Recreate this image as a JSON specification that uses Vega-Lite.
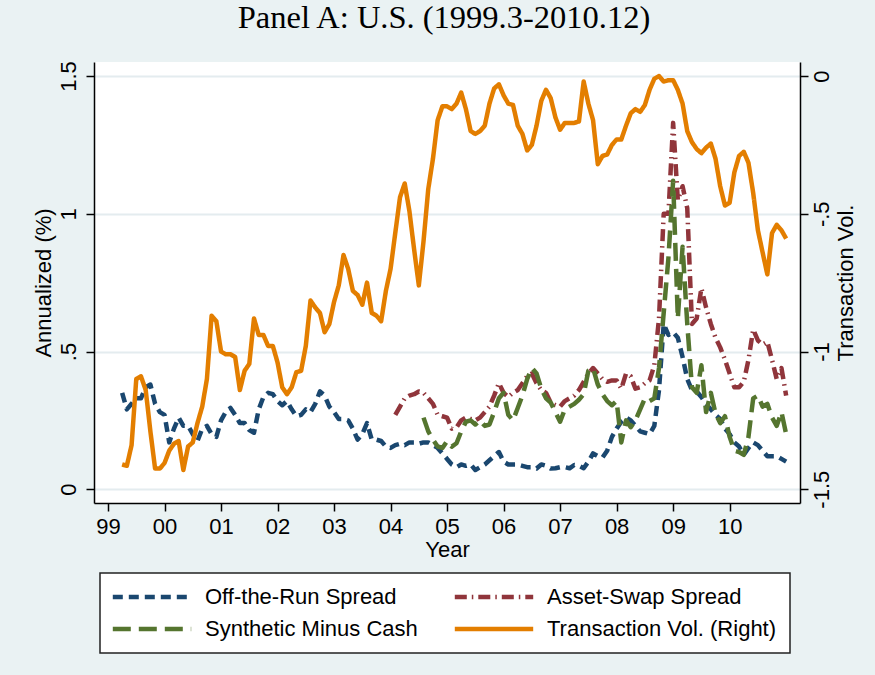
{
  "$schema": "https://vega.github.io/schema/vega-lite/v6.json",
  "width": 706,
  "height": 441,
  "autosize": {"type": "none"},
  "padding": {"left": 94, "top": 62, "right": 75, "bottom": 172},
  "background": "#eaf2f3",
  "title": {"text": "Panel A: U.S. (1999.3-2010.12)", "font": "Liberation Serif", "fontSize": 32.5, "fontWeight": "normal", "color": "#000000", "anchor": "middle", "frame": "group", "baseline": "alphabetic", "offset": 0, "dx": -3},
  "data": {"values": [
    {"t":1999.25,"off":0.35,"tv":-1.41},
    {"t":1999.333,"off":0.29,"tv":-1.415},
    {"t":1999.417,"off":0.31,"tv":-1.34},
    {"t":1999.5,"off":0.33,"tv":-1.10},
    {"t":1999.583,"off":0.33,"tv":-1.09},
    {"t":1999.667,"off":0.37,"tv":-1.14},
    {"t":1999.75,"off":0.38,"tv":-1.29},
    {"t":1999.833,"off":0.31,"tv":-1.425},
    {"t":1999.917,"off":0.28,"tv":-1.425},
    {"t":2000.0,"off":0.27,"tv":-1.405},
    {"t":2000.083,"off":0.17,"tv":-1.36},
    {"t":2000.167,"off":0.22,"tv":-1.335},
    {"t":2000.25,"off":0.26,"tv":-1.325},
    {"t":2000.333,"off":0.23,"tv":-1.43},
    {"t":2000.417,"off":0.23,"tv":-1.345},
    {"t":2000.5,"off":0.20,"tv":-1.33},
    {"t":2000.583,"off":0.175,"tv":-1.26},
    {"t":2000.667,"off":0.22,"tv":-1.20},
    {"t":2000.75,"off":0.23,"tv":-1.10},
    {"t":2000.833,"off":0.20,"tv":-0.87},
    {"t":2000.917,"off":0.19,"tv":-0.89},
    {"t":2001.0,"off":0.25,"tv":-1.00},
    {"t":2001.083,"off":0.28,"tv":-1.01},
    {"t":2001.167,"off":0.295,"tv":-1.01},
    {"t":2001.25,"off":0.27,"tv":-1.02},
    {"t":2001.333,"off":0.24,"tv":-1.14},
    {"t":2001.417,"off":0.24,"tv":-1.07},
    {"t":2001.5,"off":0.215,"tv":-1.045},
    {"t":2001.583,"off":0.205,"tv":-0.88},
    {"t":2001.667,"off":0.29,"tv":-0.94},
    {"t":2001.75,"off":0.335,"tv":-0.94},
    {"t":2001.833,"off":0.35,"tv":-0.98},
    {"t":2001.917,"off":0.345,"tv":-0.98},
    {"t":2002.0,"off":0.32,"tv":-1.04},
    {"t":2002.083,"off":0.305,"tv":-1.13},
    {"t":2002.167,"off":0.32,"tv":-1.155},
    {"t":2002.25,"off":0.29,"tv":-1.13},
    {"t":2002.333,"off":0.265,"tv":-1.075},
    {"t":2002.417,"off":0.27,"tv":-1.07},
    {"t":2002.5,"off":0.29,"tv":-0.98},
    {"t":2002.583,"off":0.28,"tv":-0.815},
    {"t":2002.667,"off":0.31,"tv":-0.84},
    {"t":2002.75,"off":0.355,"tv":-0.86},
    {"t":2002.833,"off":0.34,"tv":-0.93},
    {"t":2002.917,"off":0.30,"tv":-0.90},
    {"t":2003.0,"off":0.28,"tv":-0.82},
    {"t":2003.083,"off":0.255,"tv":-0.76},
    {"t":2003.167,"off":0.255,"tv":-0.65},
    {"t":2003.25,"off":0.25,"tv":-0.70},
    {"t":2003.333,"off":0.22,"tv":-0.78},
    {"t":2003.417,"off":0.18,"tv":-0.795},
    {"t":2003.5,"off":0.20,"tv":-0.83},
    {"t":2003.583,"off":0.24,"tv":-0.75},
    {"t":2003.667,"off":0.18,"tv":-0.86},
    {"t":2003.75,"off":0.18,"tv":-0.87},
    {"t":2003.833,"off":0.175,"tv":-0.89},
    {"t":2003.917,"off":0.155,"tv":-0.78},
    {"t":2004.0,"off":0.15,"tv":-0.70},
    {"t":2004.083,"off":0.16,"asw":0.27,"tv":-0.57},
    {"t":2004.167,"off":0.165,"asw":0.30,"tv":-0.44},
    {"t":2004.25,"off":0.16,"asw":0.33,"tv":-0.39},
    {"t":2004.333,"off":0.17,"asw":0.34,"tv":-0.49},
    {"t":2004.417,"off":0.17,"asw":0.345,"tv":-0.63},
    {"t":2004.5,"off":0.165,"asw":0.355,"tv":-0.76},
    {"t":2004.583,"off":0.17,"asw":0.35,"syn":0.26,"tv":-0.60},
    {"t":2004.667,"off":0.17,"asw":0.33,"syn":0.21,"tv":-0.41},
    {"t":2004.75,"off":0.16,"asw":0.31,"syn":0.18,"tv":-0.30},
    {"t":2004.833,"off":0.15,"asw":0.27,"syn":0.155,"tv":-0.16},
    {"t":2004.917,"off":0.13,"asw":0.265,"syn":0.15,"tv":-0.11},
    {"t":2005.0,"off":0.11,"asw":0.26,"syn":0.175,"tv":-0.11},
    {"t":2005.083,"off":0.09,"asw":0.22,"syn":0.155,"tv":-0.12},
    {"t":2005.167,"off":0.08,"asw":0.225,"syn":0.167,"tv":-0.10},
    {"t":2005.25,"off":0.09,"asw":0.25,"syn":0.21,"tv":-0.06},
    {"t":2005.333,"off":0.085,"asw":0.26,"syn":0.245,"tv":-0.12},
    {"t":2005.417,"off":0.09,"asw":0.255,"syn":0.25,"tv":-0.20},
    {"t":2005.5,"off":0.07,"asw":0.25,"syn":0.235,"tv":-0.21},
    {"t":2005.583,"off":0.08,"asw":0.26,"syn":0.25,"tv":-0.20},
    {"t":2005.667,"off":0.09,"asw":0.28,"syn":0.23,"tv":-0.18},
    {"t":2005.75,"off":0.105,"asw":0.30,"syn":0.235,"tv":-0.10},
    {"t":2005.833,"off":0.12,"asw":0.34,"syn":0.28,"tv":-0.045},
    {"t":2005.917,"off":0.135,"asw":0.385,"syn":0.33,"tv":-0.03},
    {"t":2006.0,"off":0.10,"asw":0.35,"syn":0.35,"tv":-0.07},
    {"t":2006.083,"off":0.09,"asw":0.335,"syn":0.27,"tv":-0.10},
    {"t":2006.167,"off":0.09,"asw":0.35,"syn":0.25,"tv":-0.105},
    {"t":2006.25,"off":0.09,"asw":0.36,"syn":0.295,"tv":-0.18},
    {"t":2006.333,"off":0.085,"asw":0.385,"syn":0.34,"tv":-0.21},
    {"t":2006.417,"off":0.08,"asw":0.41,"syn":0.40,"tv":-0.27},
    {"t":2006.5,"off":0.08,"asw":0.42,"syn":0.44,"tv":-0.25},
    {"t":2006.583,"off":0.075,"asw":0.385,"syn":0.42,"tv":-0.18},
    {"t":2006.667,"off":0.09,"asw":0.36,"syn":0.365,"tv":-0.09},
    {"t":2006.75,"off":0.085,"asw":0.35,"syn":0.33,"tv":-0.05},
    {"t":2006.833,"off":0.075,"asw":0.315,"syn":0.315,"tv":-0.08},
    {"t":2006.917,"off":0.076,"asw":0.305,"syn":0.28,"tv":-0.15},
    {"t":2007.0,"off":0.08,"asw":0.30,"syn":0.245,"tv":-0.195},
    {"t":2007.083,"off":0.08,"asw":0.32,"syn":0.29,"tv":-0.17},
    {"t":2007.167,"off":0.076,"asw":0.33,"syn":0.30,"tv":-0.17},
    {"t":2007.25,"off":0.088,"asw":0.34,"syn":0.31,"tv":-0.17},
    {"t":2007.333,"off":0.085,"asw":0.36,"syn":0.325,"tv":-0.165},
    {"t":2007.417,"off":0.076,"asw":0.39,"syn":0.345,"tv":-0.02},
    {"t":2007.5,"off":0.10,"asw":0.42,"syn":0.43,"tv":-0.10},
    {"t":2007.583,"off":0.13,"asw":0.44,"syn":0.44,"tv":-0.16},
    {"t":2007.667,"off":0.12,"asw":0.42,"syn":0.38,"tv":-0.32},
    {"t":2007.75,"off":0.115,"asw":0.40,"syn":0.345,"tv":-0.29},
    {"t":2007.833,"off":0.14,"asw":0.39,"syn":0.32,"tv":-0.285},
    {"t":2007.917,"off":0.19,"asw":0.395,"syn":0.305,"tv":-0.25},
    {"t":2008.0,"off":0.22,"asw":0.395,"syn":0.32,"tv":-0.23},
    {"t":2008.083,"off":0.245,"asw":0.365,"syn":0.17,"tv":-0.23},
    {"t":2008.167,"off":0.26,"asw":0.42,"syn":0.25,"tv":-0.18},
    {"t":2008.25,"off":0.25,"asw":0.41,"syn":0.225,"tv":-0.135},
    {"t":2008.333,"off":0.23,"asw":0.365,"syn":0.25,"tv":-0.12},
    {"t":2008.417,"off":0.21,"asw":0.37,"syn":0.29,"tv":-0.13},
    {"t":2008.5,"off":0.205,"asw":0.385,"syn":0.33,"tv":-0.105},
    {"t":2008.583,"off":0.20,"asw":0.395,"syn":0.32,"tv":-0.05},
    {"t":2008.667,"off":0.23,"asw":0.45,"syn":0.33,"tv":-0.01},
    {"t":2008.75,"off":0.36,"asw":0.62,"syn":0.44,"tv":0.0},
    {"t":2008.833,"off":0.60,"asw":1.00,"syn":0.64,"tv":-0.02},
    {"t":2008.917,"off":0.56,"asw":1.00,"syn":0.84,"tv":-0.015},
    {"t":2009.0,"off":0.57,"asw":1.33,"syn":1.12,"tv":-0.015},
    {"t":2009.083,"off":0.55,"asw":1.05,"syn":0.62,"tv":-0.05},
    {"t":2009.167,"off":0.48,"asw":1.10,"syn":0.88,"tv":-0.10},
    {"t":2009.25,"off":0.40,"asw":1.02,"syn":0.60,"tv":-0.20},
    {"t":2009.333,"off":0.36,"asw":0.60,"syn":0.37,"tv":-0.24},
    {"t":2009.417,"off":0.355,"asw":0.62,"syn":0.35,"tv":-0.265},
    {"t":2009.5,"off":0.335,"asw":0.73,"syn":0.45,"tv":-0.28},
    {"t":2009.583,"off":0.31,"asw":0.66,"syn":0.28,"tv":-0.26},
    {"t":2009.667,"off":0.29,"asw":0.60,"syn":0.35,"tv":-0.245},
    {"t":2009.75,"off":0.27,"asw":0.55,"syn":0.275,"tv":-0.30},
    {"t":2009.833,"off":0.255,"asw":0.515,"syn":0.24,"tv":-0.40},
    {"t":2009.917,"off":0.22,"asw":0.47,"syn":0.265,"tv":-0.47},
    {"t":2010.0,"off":0.20,"asw":0.42,"syn":0.19,"tv":-0.46},
    {"t":2010.083,"off":0.17,"asw":0.37,"syn":0.14,"tv":-0.35},
    {"t":2010.167,"off":0.155,"asw":0.37,"syn":0.135,"tv":-0.29},
    {"t":2010.25,"off":0.125,"asw":0.39,"syn":0.125,"tv":-0.275},
    {"t":2010.333,"off":0.15,"asw":0.47,"syn":0.19,"tv":-0.315},
    {"t":2010.417,"off":0.17,"asw":0.58,"syn":0.33,"tv":-0.425},
    {"t":2010.5,"off":0.16,"asw":0.54,"syn":0.34,"tv":-0.56},
    {"t":2010.583,"off":0.14,"asw":0.525,"syn":0.30,"tv":-0.64},
    {"t":2010.667,"off":0.12,"asw":0.535,"syn":0.31,"tv":-0.72},
    {"t":2010.75,"off":0.12,"asw":0.47,"syn":0.26,"tv":-0.57},
    {"t":2010.833,"off":0.12,"asw":0.40,"syn":0.23,"tv":-0.54},
    {"t":2010.917,"off":0.11,"asw":0.44,"syn":0.28,"tv":-0.56},
    {"t":2011.0,"off":0.10,"asw":0.34,"syn":0.20,"tv":-0.59}
  ]},
  "transform": [{"fold": ["off", "asw", "syn", "tv"], "as": ["key", "value"]}],
  "layer": [
    {
      "transform": [{"filter": "datum.key != 'tv'"}],
      "mark": {"type": "line", "strokeWidth": 4.5, "strokeCap": "butt", "strokeJoin": "round"},
      "encoding": {
        "x": {"field": "t", "type": "quantitative", "scale": {"domain": [1998.752, 2011.245], "nice": false, "zero": false},
              "axis": {"title": "Year", "values": [1999,2000,2001,2002,2003,2004,2005,2006,2007,2008,2009,2010], "labelExpr": "substring(toString(datum.value), 2)", "grid": false, "labelPadding": 5, "titlePadding": 2}},
        "y": {"field": "value", "type": "quantitative", "scale": {"domain": [-0.05, 1.551], "nice": false, "zero": false},
              "axis": {"title": "Annualized (%)", "orient": "left", "values": [0, 0.5, 1, 1.5], "labelExpr": "datum.value == 0.5 ? '.5' : datum.value == 1.5 ? '1.5' : datum.value == 1 ? '1' : '0'", "labelAngle": 270, "labelAlign": "center", "labelBaseline": "alphabetic", "labelPadding": 11, "grid": true, "gridColor": "#e4ecef", "gridWidth": 2, "titlePadding": 2}},
        "color": {"field": "key", "type": "nominal", "scale": {"domain": ["off", "asw", "syn", "tv"], "range": ["#1a476f", "#90353b", "#55752f", "#e37e00"]},
                  "legend": {"title": null, "labelExpr": "datum.label == 'off' ? 'Off-the-Run Spread' : datum.label == 'asw' ? 'Asset-Swap Spread' : datum.label == 'syn' ? 'Synthetic Minus Cash' : 'Transaction Vol. (Right)'"}},
        "strokeDash": {"field": "key", "type": "nominal", "scale": {"domain": ["off", "asw", "syn", "tv"], "range": [[10, 6], [12, 5, 1.5, 5], [18, 8], [1, 0]]},
                  "legend": {"title": null, "labelExpr": "datum.label == 'off' ? 'Off-the-Run Spread' : datum.label == 'asw' ? 'Asset-Swap Spread' : datum.label == 'syn' ? 'Synthetic Minus Cash' : 'Transaction Vol. (Right)'"}}
      }
    },
    {
      "transform": [{"filter": "datum.key == 'tv'"}],
      "mark": {"type": "line", "strokeWidth": 4.5, "strokeCap": "butt", "strokeJoin": "round"},
      "encoding": {
        "x": {"field": "t", "type": "quantitative"},
        "y": {"field": "value", "type": "quantitative", "scale": {"domain": [-1.55, 0.051], "nice": false, "zero": false},
              "axis": {"title": "Transaction Vol.", "orient": "right", "values": [-1.5, -1, -0.5, 0], "labelExpr": "datum.value == -1.5 ? '-1.5' : datum.value == -1 ? '-1' : datum.value == -0.5 ? '-.5' : '0'", "labelAngle": 270, "labelAlign": "center", "labelBaseline": "top", "labelPadding": 3, "grid": false, "titleAngle": 270, "titleBaseline": "top", "titlePadding": 3}},
        "color": {"field": "key", "type": "nominal",
                  "legend": {"title": null, "labelExpr": "datum.label == 'off' ? 'Off-the-Run Spread' : datum.label == 'asw' ? 'Asset-Swap Spread' : datum.label == 'syn' ? 'Synthetic Minus Cash' : 'Transaction Vol. (Right)'"}},
        "strokeDash": {"field": "key", "type": "nominal",
                  "legend": {"title": null, "labelExpr": "datum.label == 'off' ? 'Off-the-Run Spread' : datum.label == 'asw' ? 'Asset-Swap Spread' : datum.label == 'syn' ? 'Synthetic Minus Cash' : 'Transaction Vol. (Right)'"}}
      }
    }
  ],
  "resolve": {"scale": {"y": "independent"}},
  "config": {
    "view": {"fill": "white", "stroke": null},
    "axis": {"labelFont": "Liberation Sans", "labelFontSize": 22, "labelColor": "#000000", "titleFont": "Liberation Sans", "titleFontSize": 22, "titleFontWeight": "normal", "titleColor": "#000000", "domainColor": "#000000", "domainWidth": 1.5, "tickColor": "#000000", "tickWidth": 1.5, "tickSize": 8},
    "legend": {"orient": "none", "direction": "horizontal", "legendX": 6, "legendY": 511, "columns": 2, "columnPadding": 27, "rowPadding": 10, "padding": 13, "fillColor": "white", "strokeColor": "#222222", "strokeWidth": 1.5, "symbolType": "M-1.4,0H8.4", "symbolSize": 256, "symbolStrokeWidth": 4.5, "labelFont": "Liberation Sans", "labelFontSize": 22, "labelColor": "#000000", "labelOffset": 70, "labelLimit": 400, "cornerRadius": 0}
  }
}
